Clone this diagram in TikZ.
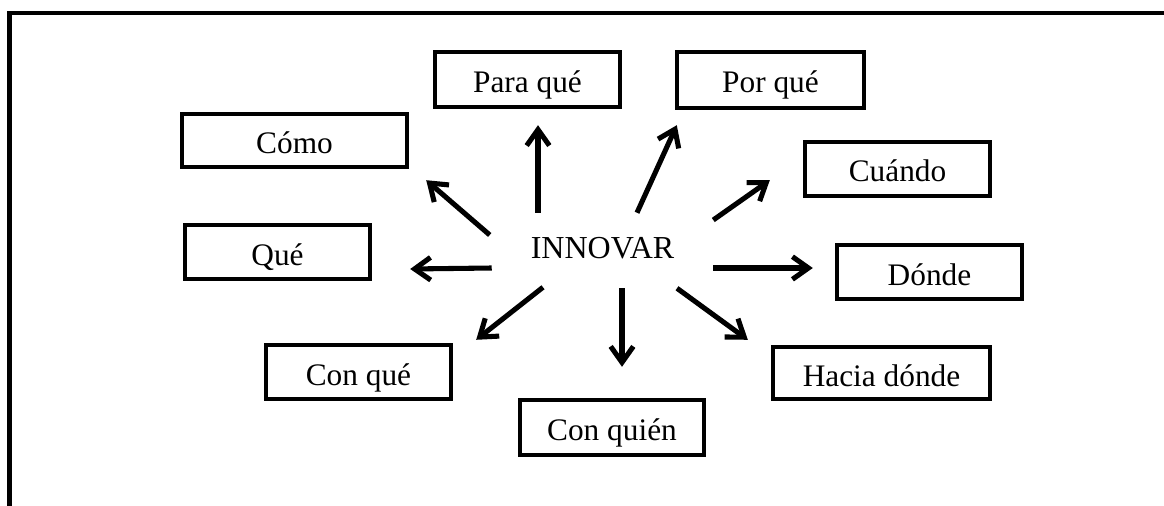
\documentclass[tikz,border=0pt]{standalone}
\usepackage{fontspec}
\setmainfont{Liberation Serif}
\usetikzlibrary{arrows.meta,calc}
\definecolor{innInk}{HTML}{000000}
\tikzset{
  inn frame/.style={draw=innInk, line width=3.3pt},
  inn size/.style 2 args={minimum width=#1*0.75pt, minimum height=#2*0.75pt},
  inn box/.style={draw=innInk, line width=3.3pt, inner sep=0pt, text height=19.5pt, text depth=0pt, font=\fontsize{23.5pt}{28pt}\selectfont},
  inn hub/.style={fill=white, inner sep=0pt, text height=22.5pt, text depth=0pt, font=\fontsize{24pt}{28pt}\selectfont},
  inn arrow/.style={draw=innInk, line width=3.8pt, -{Straight Barb[length=12pt,width=17pt]}},
}

\begin{document}
\begin{tikzpicture}[x=0.75pt, y=-0.75pt]
  \useasboundingbox (0,0) rectangle (1164,506);
  % Frame (only top and left edges show)
  \draw[inn frame] (9.5,506) -- (9.5,13) -- (1164,13);
  % Question boxes
  \node[inn box, inn size={185}{55}] (para) at (527.5,79.5) {Para qué};
  \node[inn box, inn size={187}{56}] (porque) at (770.5,80) {Por qué};
  \node[inn box, inn size={225}{53}] (como) at (294.5,140.5) {Cómo};
  \node[inn box, inn size={185}{54}] (que) at (277.5,252) {Qué};
  \node[inn box, inn size={185}{54}] (conque) at (358.5,372) {Con qué};
  \node[inn box, inn size={184}{55}] (conquien) at (612,427.5) {Con quién};
  \node[inn box, inn size={185}{54}] (cuando) at (897.5,169) {Cuándo};
  \node[inn box, inn size={185}{54}] (donde) at (929.5,272) {Dónde};
  \node[inn box, inn size={217}{52}] (hacia) at (881.5,373) {Hacia dónde};
  % Centre word
  \node[inn hub, inn size={221}{60}] (hub) at (602.5,243) {INNOVAR};
  % Arrows out of the centre
  \draw[inn arrow] ($(hub.north)+(-64.5,0)$) -- ($(para.south)+(10.5,16)$);
  \draw[inn arrow] ($(hub.north)+(34.5,0)$) -- ($(porque.south west)+(2,15)$);
  \draw[inn arrow] ($(hub.west)+(-2,-8)$) -- ($(como.south east)+(17,11)$);
  \draw[inn arrow] ($(hub.west)+(0,25)$) -- ($(que.east)+(38,17)$);
  \draw[inn arrow] ($(hub.east)+(0,-23)$) -- ($(cuando.south west)+(-33,-18)$);
  \draw[inn arrow] ($(hub.east)+(0,25)$) -- ($(donde.west)+(-22,-4)$);
  \draw[inn arrow] ($(hub.south)+(74.5,15)$) -- ($(hacia.north west)+(-23,-5)$);
  \draw[inn arrow] ($(hub.south)+(19.5,15)$) -- ($(conquien.north)+(10,-31)$);
  \draw[inn arrow] ($(hub.south)+(-59.5,14)$) -- ($(conque.north east)+(23,-3)$);
\end{tikzpicture}
\end{document}
